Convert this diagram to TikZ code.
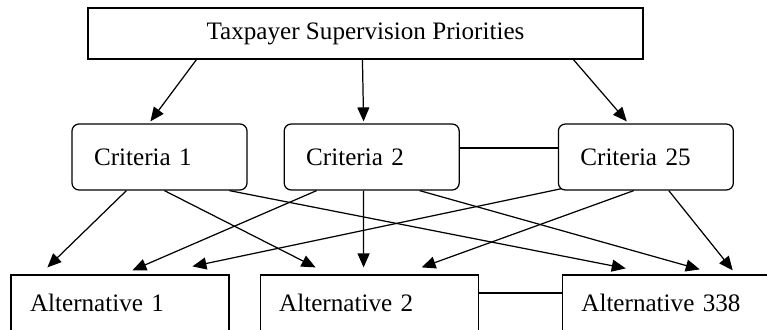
\documentclass[tikz,border=0pt]{standalone}
\usepackage{fontspec}
\setmainfont{Liberation Serif}
\usetikzlibrary{arrows.meta, positioning, calc}

\begin{document}
\begin{tikzpicture}[x=0.02cm, y=-0.02cm,
    >={Triangle[length=0.28cm, width=0.24cm]},
    font=\fontsize{14.3}{17}\selectfont,
    plainbox/.style={draw, line width=0.7pt, inner sep=0pt},
    crit/.style={plainbox, rounded corners=0.14cm, minimum width=3.5cm,
                 minimum height=1.32cm, text width=2.62cm, align=left},
    alt/.style={plainbox, minimum width=4.36cm, minimum height=1.12cm,
                text width=3.6cm, align=left},
    link/.style={->, line width=0.7pt}]
  \useasboundingbox (0,0) rectangle (767,329);

  \node[plainbox, minimum width=11.1cm, minimum height=1.02cm] (top)
        at (365.5,33.5) {Taxpayer Supervision Priorities};

  \node[crit] (crit1) at (159.5,157) {Criteria 1};
  \node[crit, right=0.72cm of crit1] (crit2) {Criteria 2};
  \node[crit, right=1.96cm of crit2] (crit25) {Criteria 25};

  \node[alt] (alt1) at (120,303) {Alternative 1};
  \node[alt, right=0.6cm of alt1] (alt2) {Alternative 2};
  \node[alt, right=1.66cm of alt2] (alt338) {Alternative 338};

  \draw[link] ($(top.south west)+(109,0)$) -- ($(crit1.north west)+(79,-2)$);
  \draw[link] ($(top.south west)+(275,0)$) -- ($(crit2.north west)+(80,-2)$);
  \draw[link] ($(top.south west)+(486,0)$) -- ($(crit25.north west)+(69,-2)$);

  \draw[line width=0.7pt] ($(crit2.east)+(0,-9)$) -- ($(crit25.west)+(0,-9)$);

  \draw[link] ($(crit1.south west)+(55,0)$)  -- ($(alt1.north west)+(37,-7)$);
  \draw[link] ($(crit1.south west)+(93,0)$)  -- ($(alt2.north west)+(56,-7)$);
  \draw[link] ($(crit1.south west)+(158,0)$) -- ($(alt338.north west)+(64,-6)$);
  \draw[link] ($(crit2.south west)+(33,0)$)  -- ($(alt1.north west)+(122,-4)$);
  \draw[link] ($(crit2.south west)+(80,0)$)  -- ($(alt2.north west)+(104,-7)$);
  \draw[link] ($(crit2.south west)+(136,0)$) -- ($(alt338.north west)+(138,-5)$);
  \draw[link] ($(crit25.south west)+(4,-2)$) -- ($(alt1.north west)+(182,-8)$);
  \draw[link] ($(crit25.south west)+(76,0)$) -- ($(alt2.north west)+(162,-7)$);
  \draw[link] ($(crit25.south west)+(111,0)$) -- ($(alt338.north west)+(171,-4)$);

  \draw[line width=0.7pt] ($(alt2.east)+(0,-10)$) -- ($(alt338.west)+(0,-10)$);
\end{tikzpicture}
\end{document}
